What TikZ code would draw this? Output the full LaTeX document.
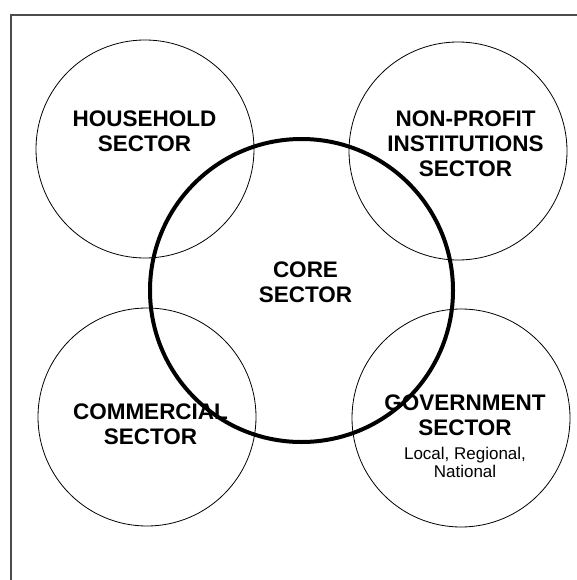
\documentclass[tikz,border=0pt]{standalone}
\usepackage{fontspec}
\setmainfont{Liberation Sans}
\usetikzlibrary{positioning}

\begin{document}
\begin{tikzpicture}[x=1pt,y=-1pt,
    sector/.style={circle,draw,line width=0.8pt,minimum size=218pt,inner sep=0pt},
    coresector/.style={circle,draw,line width=4pt,minimum size=303pt,inner sep=0pt},
    sectorname/.style={align=center,inner sep=0pt,font=\fontsize{22.5}{25}\selectfont\bfseries},
    sectornote/.style={align=center,inner sep=0pt,font=\fontsize{17}{18.5}\selectfont}]
\useasboundingbox (0,0) rectangle (577,580);

%外框
\draw[line width=1.2pt,black!70] (11,580) -- (11,15) -- (577,15);

%四個部門
\node[sector] (cHouse) at (145,149) {};
\node[sector] (cNonProfit) at (458,151) {};
\node[sector] (cCommerce) at (147,417) {};
\node[sector] (cGov) at (461,418) {};

%文字
\node[sectorname] (tHouse) at (144.5,131) {HOUSEHOLD\\SECTOR};
\node[sectorname] (tNonProfit) at (465.5,144) {NON-PROFIT\\INSTITUTIONS\\SECTOR};
\node[sectorname] (tCommerce) at (150.5,424.5) {COMMERCIAL\\SECTOR};
\node[sectorname] (tGov) at (465,415.5) {GOVERNMENT\\SECTOR};
\node[sectornote, below=10.5pt of tGov] (tGovNote) {Local, Regional,\\National};
\node[sectorname] (tCore) at (305.5,282.5) {CORE\\SECTOR};

%核心部門
\node[coresector] (cCore) at (301.5,290.5) {};

\end{tikzpicture}
\end{document}
